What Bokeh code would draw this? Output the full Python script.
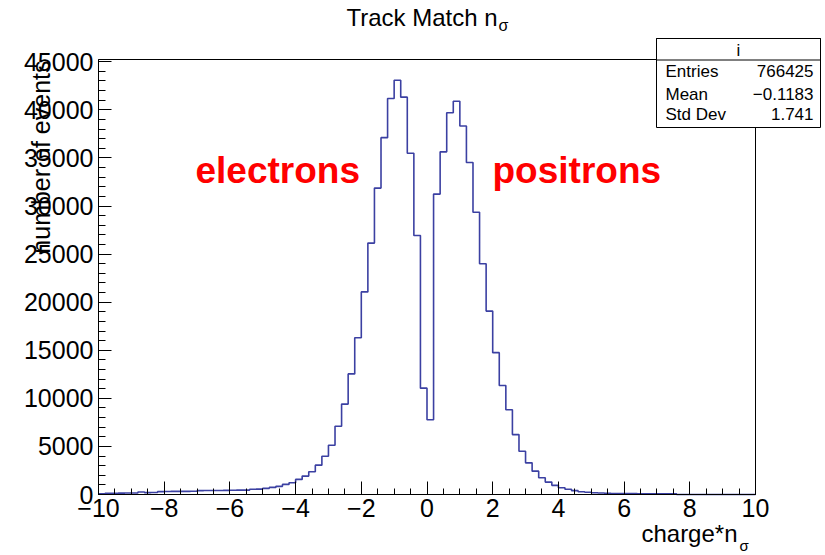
import math

from bokeh.embed import file_html
from bokeh.models import BoxAnnotation, FixedTicker, Label, LinearAxis, Range1d
from bokeh.plotting import figure
from bokeh.resources import INLINE

# ---- histogram data: 100 bins from -10 to 10 ----
bin_low = -10.0
bin_high = 10.0
n_bins = 100

counts = [
    # -10.0 .. -4.2
    80, 120, 130, 140, 150, 160, 260, 200, 210, 300,
    310, 320, 330, 330, 340, 400, 410, 410, 420, 430,
    440, 450, 450, 540, 560, 640, 740, 850, 1050, 1220,
    # -4.0 .. 2.6
    1570, 1915, 2360, 3050, 3985, 5120, 7090, 9400, 12540, 16300,
    21070, 26140, 31860, 37110, 41180, 43080, 41320, 35490, 26930, 11060,
    7780, 31240, 35630, 39700, 40900, 38320, 34520, 29350, 24000, 19070,
    14750, 11340, 8820, 6230,
    # 2.8 .. 5.4
    4500, 3290, 2430, 1740, 1290, 950, 700, 540, 400, 290,
    230, 180, 150, 120,
    # 5.6 .. 7.4
    100, 95, 90, 90, 85, 80, 80, 75, 70, 60,
    # 7.6 .. 9.8
    0, 0, 0, 0, 0, 0, 0, 0, 0, 0, 0, 0,
]

x_ticks = [-10, -8, -6, -4, -2, 0, 2, 4, 6, 8, 10]
x_tick_labels = ["\u221210", "\u22128", "\u22126", "\u22124", "\u22122",
                 "0", "2", "4", "6", "8", "10"]
y_ticks = [0, 5000, 10000, 15000, 20000, 25000, 30000, 35000, 40000, 45000]

stats_title = "i"
stats_names = ["Entries", "Mean", "Std Dev"]
stats_values = ["766425", "\u22120.1183", "1.741"]

# ---- canvas geometry (pixels) ----
W, H = 825, 555
LEFT, RIGHT, TOP, BOTTOM = 98, 70, 59, 61   # margins around the histogram frame
FONT = "Liberation Sans"
BASELINE_SHIFT = 0.37   # em offset that puts the label anchor on the text baseline

bin_width = (bin_high - bin_low) / n_bins
edges = [bin_low + i * bin_width for i in range(n_bins + 1)]
y_max = 1.05 * max(counts)

# the drawing area spans the whole canvas; the ranges are widened so that
# [bin_low, bin_high] x [0, y_max] lands on the histogram frame
x_per_px = (bin_high - bin_low) / (W - LEFT - RIGHT)
y_per_px = y_max / (H - TOP - BOTTOM)
x_range = Range1d(bin_low - LEFT * x_per_px, bin_high + RIGHT * x_per_px)
y_range = Range1d(-BOTTOM * y_per_px, y_max + TOP * y_per_px)


def fx(px):
    return bin_low + (px - LEFT) * x_per_px


def fy(py):
    return (H - BOTTOM - py) * y_per_px


p = figure(
    width=W, height=H,
    x_range=x_range, y_range=y_range,
    output_backend="svg",
    toolbar_location=None,
    title=None,
    x_axis_location=None, y_axis_location=None,
    min_border=0,
)
p.min_border_left = p.min_border_right = p.min_border_top = p.min_border_bottom = 0
p.background_fill_color = "white"
p.border_fill_color = "white"
p.outline_line_color = None
p.xgrid.visible = False
p.ygrid.visible = False

# histogram outline
p.step(edges, counts + [counts[-1]], mode="after",
       line_color="#3b40a2", line_width=1.6)

# axes in ROOT style: drawn on the frame edges, ticks pointing inward
xaxis = LinearAxis(fixed_location=0, bounds=(bin_low, bin_high))
yaxis = LinearAxis(fixed_location=bin_low, bounds=(0, y_max))
for ax in (xaxis, yaxis):
    ax.axis_line_color = "black"
    ax.axis_line_width = 1
    ax.major_tick_line_color = "black"
    ax.minor_tick_line_color = "black"
    ax.major_tick_out = 0
    ax.minor_tick_out = 0
    ax.major_label_text_font = FONT
    ax.major_label_text_font_size = "25px"
    ax.major_label_text_color = "black"

xaxis.ticker = FixedTicker(
    ticks=x_ticks,
    minor_ticks=[bin_low + 0.5 * i for i in range(41)],
)
xaxis.major_label_overrides = {float(t): s for t, s in zip(x_ticks, x_tick_labels)}
xaxis.major_tick_in = 13
xaxis.minor_tick_in = 6
xaxis.major_label_standoff = 4

yaxis.ticker = FixedTicker(
    ticks=y_ticks,
    minor_ticks=[1000 * i for i in range(46)],
)
yaxis.formatter.use_scientific = False
yaxis.major_tick_in = 13
yaxis.minor_tick_in = 7
yaxis.major_label_standoff = 5

p.add_layout(xaxis, "below")
p.add_layout(yaxis, "left")

# frame box around the histogram
p.add_layout(BoxAnnotation(
    left=bin_low, right=bin_high, bottom=0, top=y_max,
    fill_alpha=0.0, line_color="black", line_width=1, line_alpha=1.0,
))


def add_text(px, py, text, size, align="left", color="black", style="normal", rotated=False):
    """Place a label whose baseline starts at pixel (px, py) of the canvas."""
    shift = BASELINE_SHIFT * size
    if rotated:
        px -= shift
    else:
        py -= shift
    p.add_layout(Label(
        x=fx(px), y=fy(py), text=text,
        text_font=FONT, text_font_size=f"{size}px", text_font_style=style,
        text_color=color, text_align=align, text_baseline="alphabetic",
        angle=math.pi / 2 if rotated else 0.0,
    ))


# title with subscript sigma
add_text(346, 26, "Track Match n", 24)
add_text(498, 31, "\u03c3", 16)

# axis titles
add_text(50, 60, "number of events", 25, align="right", rotated=True)
add_text(737, 542, "charge*n", 24, align="right")
add_text(739, 551, "\u03c3", 15)

# particle annotations
add_text(195, 184, "electrons", 37, color="#ff0000", style="bold")
add_text(492, 184, "positrons", 37, color="#ff0000", style="bold")

# statistics box
p.add_layout(BoxAnnotation(
    left=fx(656), right=fx(820), top=fy(38), bottom=fy(127),
    fill_color="white", fill_alpha=1.0, line_color="black", line_width=1,
    line_alpha=1.0,
))
p.add_layout(BoxAnnotation(
    left=fx(656), right=fx(820), top=fy(38), bottom=fy(59.5),
    fill_alpha=0.0, line_color="black", line_width=1, line_alpha=1.0,
))
add_text(738, 56, stats_title, 17, align="center")
for row, (name, val) in enumerate(zip(stats_names, stats_values)):
    base = [77, 100, 120][row]
    add_text(665, base, name, 17)
    add_text(813, base, val, 17, align="right")

open("out.html", "w").write(file_html(p, INLINE))
